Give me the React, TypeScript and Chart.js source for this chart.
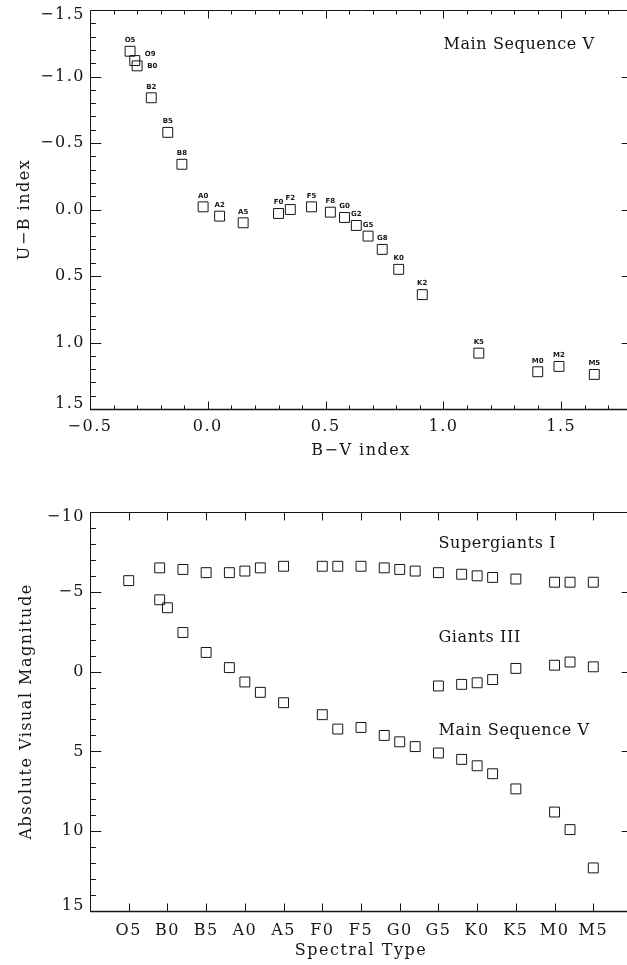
import React, { useEffect, useRef } from 'react';
import { Chart, registerables } from 'chart.js';

Chart.register(...registerables);

// ---------- data ----------
// Main-sequence (V) stars: spectral type, B-V, U-B, absolute visual magnitude
const msTypes = ['O5', 'O9', 'B0', 'B2', 'B5', 'B8', 'A0', 'A2', 'A5', 'F0', 'F2', 'F5', 'F8', 'G0', 'G2', 'G5', 'G8', 'K0', 'K2', 'K5', 'M0', 'M2', 'M5'];
const msBV = [-0.33, -0.31, -0.30, -0.24, -0.17, -0.11, -0.02, 0.05, 0.15, 0.30, 0.35, 0.44, 0.52, 0.58, 0.63, 0.68, 0.74, 0.81, 0.91, 1.15, 1.40, 1.49, 1.64];
const msUB = [-1.19, -1.12, -1.08, -0.84, -0.58, -0.34, -0.02, 0.05, 0.10, 0.03, 0.00, -0.02, 0.02, 0.06, 0.12, 0.20, 0.30, 0.45, 0.64, 1.08, 1.22, 1.18, 1.24];
const msMv = [-5.7, -4.5, -4.0, -2.45, -1.2, -0.25, 0.65, 1.3, 1.95, 2.7, 3.6, 3.5, 4.0, 4.4, 4.7, 5.1, 5.5, 5.9, 6.4, 7.35, 8.8, 9.9, 12.3];

// Giants (III)
const giantTypes = ['G5', 'G8', 'K0', 'K2', 'K5', 'M0', 'M2', 'M5'];
const giantMv = [0.9, 0.8, 0.7, 0.5, -0.2, -0.4, -0.6, -0.3];

// Supergiants (I)
const superTypes = ['O9', 'B2', 'B5', 'B8', 'A0', 'A2', 'A5', 'F0', 'F2', 'F5', 'F8', 'G0', 'G2', 'G5', 'G8', 'K0', 'K2', 'K5', 'M0', 'M2', 'M5'];
const superMv = [-6.5, -6.4, -6.2, -6.2, -6.3, -6.5, -6.6, -6.6, -6.6, -6.6, -6.5, -6.4, -6.3, -6.2, -6.1, -6.0, -5.9, -5.8, -5.6, -5.6, -5.6];

// tick labels
const bvTicks = [-0.5, 0.0, 0.5, 1.0, 1.5];
const ubTicks = [-1.5, -1.0, -0.5, 0.0, 0.5, 1.0, 1.5];
const mvTicks = [-10, -5, 0, 5, 10, 15];
const spectralTickLabels = ['O5', 'B0', 'B5', 'A0', 'A5', 'F0', 'F5', 'G0', 'G5', 'K0', 'K5', 'M0', 'M5'];

// text annotations
const topNotes = [{ text: 'Main Sequence V', x: 1.0, y: -1.24 }];
const bottomNotes = [
  { text: 'Supergiants I', x: 'G5', y: -8.0 },
  { text: 'Giants III', x: 'G5', y: -2.1 },
  { text: 'Main Sequence V', x: 'G5', y: 3.72 },
];
// point labels drawn beside (not above) the square
const sideLabels: Record<string, [number, number]> = { O9: [10, -6], B0: [10, 0] };

// ---------- helpers ----------
const SERIF = '"DejaVu Serif", serif';
const INK = '#151515';
const W = 640;
const TOP_H = 480;
const BOT_H = 485;
const PLOT_RIGHT = 635;
const SPACING = '1.5px';

const specCode = (s: string) => 'OBAFGKM'.indexOf(s[0]) * 10 + Number(s.slice(1));

function fmt(v: number, d: number) {
  const s = Math.abs(v).toFixed(d);
  return v < 0 ? '\u2212' + s : s;
}

const spacingPlugin = {
  id: 'spacing',
  beforeUpdate(chart: any) { chart.ctx.letterSpacing = SPACING; },
  beforeLayout(chart: any) { chart.ctx.letterSpacing = SPACING; },
  beforeDraw(chart: any) {
    chart.ctx.letterSpacing = SPACING;
    // keep the end labels of the y axis inside the plot height
    const ys = chart.scales.y;
    const items = ys.getLabelItems(chart.chartArea);
    const ca = chart.chartArea;
    items.forEach((it: any) => {
      const t = it.options.translation;
      if (Math.abs(t[1] - ca.top) < 1) t[1] += 5;
      else if (Math.abs(t[1] - ca.bottom) < 1) t[1] -= 5;
    });
  },
};

function framePlugin(xMajor: number[], xMinorStep: number | null, yMajor: number[], yMinorStep: number | null) {
  return {
    id: 'frame',
    afterDraw(chart: any) {
      const { ctx, chartArea: ca } = chart;
      const xs = chart.scales.x;
      const ys = chart.scales.y;
      const L = Math.round(ca.left) + 0.5;
      const R = Math.round(ca.right) + 0.5;
      const T = Math.round(ca.top) + 0.5;
      const B = Math.round(ca.bottom) + 0.5;
      const xLen = 0.02 * (ca.bottom - ca.top);
      const yLen = 0.02 * (ca.right - ca.left);
      ctx.save();
      ctx.strokeStyle = INK;
      ctx.lineWidth = 1;
      ctx.beginPath();
      ctx.moveTo(L, B); ctx.lineTo(L, T); ctx.lineTo(R, T); ctx.lineTo(R, B);
      ctx.stroke();
      ctx.lineWidth = 1.6;
      ctx.beginPath();
      ctx.moveTo(L - 0.5, B); ctx.lineTo(R, B);
      ctx.stroke();
      ctx.lineWidth = 1;
      const isMajor = (v: number, arr: number[]) => arr.some((m) => Math.abs(m - v) < 1e-6);
      const xTick = (v: number, len: number) => {
        const p = Math.round(xs.getPixelForValue(v)) + 0.5;
        ctx.moveTo(p, B); ctx.lineTo(p, B - len);
        ctx.moveTo(p, T); ctx.lineTo(p, T + len);
      };
      const yTick = (v: number, len: number) => {
        const p = Math.round(ys.getPixelForValue(v)) + 0.5;
        ctx.moveTo(L, p); ctx.lineTo(L + len, p);
        ctx.moveTo(R, p); ctx.lineTo(R - len, p);
      };
      ctx.beginPath();
      xMajor.forEach((v) => xTick(v, xLen));
      if (xMinorStep) {
        for (let k = Math.ceil(xs.min / xMinorStep - 1e-9); k * xMinorStep <= xs.max + 1e-9; k++) {
          const v = k * xMinorStep;
          if (!isMajor(v, xMajor)) xTick(v, xLen / 2);
        }
      }
      yMajor.forEach((v) => yTick(v, yLen));
      if (yMinorStep) {
        const lo = Math.min(ys.min, ys.max);
        const hi = Math.max(ys.min, ys.max);
        for (let k = Math.ceil(lo / yMinorStep - 1e-9); k * yMinorStep <= hi + 1e-9; k++) {
          const v = k * yMinorStep;
          if (!isMajor(v, yMajor)) yTick(v, yLen / 2);
        }
      }
      ctx.stroke();
      ctx.restore();
    },
  };
}

function notesPlugin(notes: { text: string; x: any; y: number }[]) {
  return {
    id: 'notes',
    afterDatasetsDraw(chart: any) {
      const { ctx } = chart;
      ctx.save();
      ctx.letterSpacing = '0.6px';
      ctx.font = '16px ' + SERIF;
      ctx.fillStyle = INK;
      ctx.textAlign = 'left';
      ctx.textBaseline = 'middle';
      notes.forEach((n) => {
        const xv = typeof n.x === 'string' ? specCode(n.x) : n.x;
        ctx.fillText(n.text, chart.scales.x.getPixelForValue(xv), chart.scales.y.getPixelForValue(n.y));
      });
      ctx.restore();
    },
  };
}

const pointLabelPlugin = {
  id: 'pointLabels',
  afterDatasetsDraw(chart: any) {
    const { ctx } = chart;
    const meta = chart.getDatasetMeta(0);
    ctx.save();
    ctx.letterSpacing = '0px';
    ctx.font = 'bold 7px "DejaVu Sans", sans-serif';
    ctx.fillStyle = INK;
    ctx.textBaseline = 'middle';
    meta.data.forEach((pt: any, i: number) => {
      const name = msTypes[i];
      const side = sideLabels[name];
      if (side) {
        ctx.textAlign = 'left';
        ctx.fillText(name, pt.x + side[0], pt.y + side[1]);
      } else {
        ctx.textAlign = 'center';
        ctx.fillText(name, pt.x, pt.y - 11);
      }
    });
    ctx.restore();
  },
};

const pointStyle = {
  pointStyle: 'rect' as const,
  pointRadius: 7,
  pointHoverRadius: 7,
  borderColor: INK,
  backgroundColor: 'rgba(0,0,0,0)',
  borderWidth: 1,
  showLine: false,
};

const tickFont = { family: SERIF, size: 16 };

function topConfig(): any {
  return {
    type: 'scatter',
    data: {
      datasets: [{ data: msBV.map((x, i) => ({ x, y: msUB[i] })), ...pointStyle }],
    },
    options: {
      responsive: false,
      animation: false,
      devicePixelRatio: 1,
      events: [],
      layout: { padding: { top: 10, right: W - PLOT_RIGHT, left: 0, bottom: 0 } },
      plugins: { legend: { display: false }, tooltip: { enabled: false } },
      scales: {
        x: {
          type: 'linear',
          position: 'bottom',
          min: -0.5,
          max: 1.8,
          afterBuildTicks: (s: any) => { s.ticks = bvTicks.map((value) => ({ value })); },
          afterFit: (s: any) => { s.height = TOP_H - 409; s.paddingLeft = 0; s.paddingRight = 0; },
          grid: { display: false, drawTicks: false },
          border: { display: false },
          ticks: { callback: (v: number) => fmt(v, 1), font: tickFont, color: INK, padding: 8, maxRotation: 0, autoSkip: false },
          title: { display: true, text: 'B\u2212V index', font: tickFont, color: INK, padding: { top: 0, bottom: 20 } },
        },
        y: {
          type: 'linear',
          position: 'left',
          reverse: true,
          min: -1.5,
          max: 1.5,
          afterBuildTicks: (s: any) => { s.ticks = ubTicks.map((value) => ({ value })); },
          afterFit: (s: any) => { s.width = 90; s.paddingTop = 0; s.paddingBottom = 0; },
          grid: { display: false, drawTicks: false },
          border: { display: false },
          ticks: { callback: (v: number) => fmt(v, 1), font: tickFont, color: INK, padding: 5, autoSkip: false },
          title: { display: true, text: 'U\u2212B index', font: tickFont, color: INK, padding: { top: 15, bottom: 0 } },
        },
      },
    },
    plugins: [spacingPlugin, pointLabelPlugin, notesPlugin(topNotes), framePlugin(bvTicks, 0.1, ubTicks, 0.1)],
  };
}

function bottomConfig(): any {
  const specTickCodes = spectralTickLabels.map(specCode);
  return {
    type: 'scatter',
    data: {
      datasets: [
        { data: superTypes.map((t, i) => ({ x: specCode(t), y: superMv[i] })), ...pointStyle },
        { data: giantTypes.map((t, i) => ({ x: specCode(t), y: giantMv[i] })), ...pointStyle },
        { data: msTypes.map((t, i) => ({ x: specCode(t), y: msMv[i] })), ...pointStyle },
      ],
    },
    options: {
      responsive: false,
      animation: false,
      devicePixelRatio: 1,
      events: [],
      layout: { padding: { top: 32, right: W - PLOT_RIGHT, left: 0, bottom: 0 } },
      plugins: { legend: { display: false }, tooltip: { enabled: false } },
      scales: {
        x: {
          type: 'linear',
          position: 'bottom',
          min: 0,
          max: 70,
          afterBuildTicks: (s: any) => { s.ticks = specTickCodes.map((value) => ({ value })); },
          afterFit: (s: any) => { s.height = BOT_H - 431; s.paddingLeft = 0; s.paddingRight = 0; },
          grid: { display: false, drawTicks: false },
          border: { display: false },
          ticks: {
            callback: (v: number) => spectralTickLabels[specTickCodes.indexOf(v)] ?? '',
            font: tickFont, color: INK, padding: 10, maxRotation: 0, autoSkip: false,
          },
          title: { display: true, text: 'Spectral Type', font: tickFont, color: INK, padding: { top: 0, bottom: 5 } },
        },
        y: {
          type: 'linear',
          position: 'left',
          reverse: true,
          min: -10,
          max: 15,
          afterBuildTicks: (s: any) => { s.ticks = mvTicks.map((value) => ({ value })); },
          afterFit: (s: any) => { s.width = 90; s.paddingTop = 0; s.paddingBottom = 0; },
          grid: { display: false, drawTicks: false },
          border: { display: false },
          ticks: { callback: (v: number) => fmt(v, 0), font: tickFont, color: INK, padding: 5, autoSkip: false },
          title: { display: true, text: 'Absolute Visual Magnitude', font: tickFont, color: INK, padding: { top: 17, bottom: 0 } },
        },
      },
    },
    plugins: [spacingPlugin, notesPlugin(bottomNotes), framePlugin(specTickCodes, null, mvTicks, 1)],
  };
}

export default function App() {
  const topRef = useRef<HTMLCanvasElement>(null);
  const botRef = useRef<HTMLCanvasElement>(null);

  useEffect(() => {
    const c1 = new Chart(topRef.current as HTMLCanvasElement, topConfig());
    const c2 = new Chart(botRef.current as HTMLCanvasElement, bottomConfig());
    return () => {
      c1.destroy();
      c2.destroy();
    };
  }, []);

  return (
    <div style={{ position: 'absolute', left: 0, top: 0, width: 627, height: 965, overflow: 'hidden', background: '#fff' }}>
      <canvas ref={topRef} width={W} height={TOP_H} style={{ position: 'absolute', left: 0, top: 0, width: W, height: TOP_H }} />
      <canvas ref={botRef} width={W} height={BOT_H} style={{ position: 'absolute', left: 0, top: TOP_H, width: W, height: BOT_H }} />
    </div>
  );
}
